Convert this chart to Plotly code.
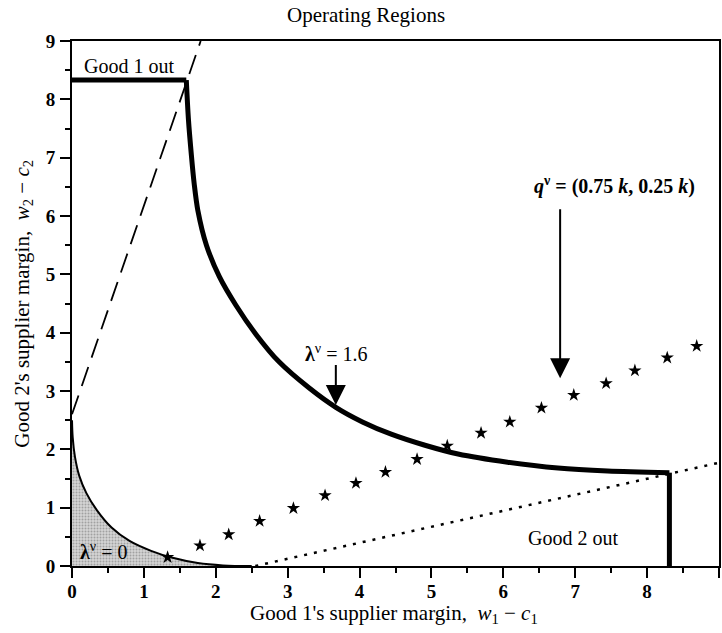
import plotly.graph_objects as go

# ---- data ----
# lambda = 1.6 boundary (thick)
good1_out_x = [0.0, 1.59]
good1_out_y = [8.33, 8.33]
lam16_x = [1.59, 1.62, 1.66, 1.70, 1.75, 1.87, 2.05, 2.28, 2.56, 2.88, 3.30, 3.67, 4.04, 4.44, 4.91, 5.37, 6.06, 6.76, 7.45, 8.31]
lam16_y = [8.33, 7.65, 7.05, 6.55, 6.10, 5.50, 4.96, 4.47, 3.97, 3.50, 3.05, 2.72, 2.47, 2.26, 2.07, 1.92, 1.78, 1.68, 1.63, 1.60]
good2_out_x = [8.31, 8.31]
good2_out_y = [1.60, 0.0]

# lambda = 0 boundary (thin, shaded below)
lam0_x = [0, 0.01, 0.04, 0.1, 0.2, 0.35, 0.55, 0.8, 1.1, 1.4, 1.75, 2.1, 2.5]
lam0_y = [2.5, 2.2, 1.88, 1.55, 1.25, 0.95, 0.66, 0.43, 0.26, 0.14, 0.05, 0.01, 0.0]

# dashed ray and dotted ray
dash_x = [0.0, 1.79]
dash_y = [2.6, 9.0]
dot_x = [2.55, 9.0]
dot_y = [0.0, 1.77]

# q^v = (0.75k, 0.25k) path (stars)
star_x = [1.33, 1.78, 2.18, 2.61, 3.08, 3.52, 3.95, 4.36, 4.80, 5.22, 5.69, 6.09, 6.53, 6.98, 7.43, 7.83, 8.28, 8.69]
star_y = [0.15, 0.35, 0.54, 0.77, 0.99, 1.21, 1.42, 1.61, 1.83, 2.06, 2.28, 2.47, 2.71, 2.93, 3.13, 3.35, 3.57, 3.77]

tick_vals = [0, 1, 2, 3, 4, 5, 6, 7, 8, 9]

FONT = "Liberation Serif"
BLACK = "black"

fig = go.Figure()

# shaded lambda=0 region
fig.add_trace(go.Scatter(
    x=lam0_x, y=lam0_y, mode="lines", line=dict(color=BLACK, width=2),
    fill="tozeroy", fillcolor="rgb(195,195,195)",
    fillpattern=dict(shape=".", fgcolor="rgb(110,110,110)", bgcolor="rgb(212,212,212)", size=3, solidity=0.35),
    line_shape="spline", hoverinfo="skip", showlegend=False))

fig.add_trace(go.Scatter(x=dash_x, y=dash_y, mode="lines",
                         line=dict(color=BLACK, width=1.8, dash="20px,10px"), showlegend=False))
fig.add_trace(go.Scatter(x=dot_x, y=dot_y, mode="lines",
                         line=dict(color=BLACK, width=2.5, dash="3px,7px"), showlegend=False))

fig.add_trace(go.Scatter(x=good1_out_x, y=good1_out_y, mode="lines",
                         line=dict(color=BLACK, width=5), showlegend=False))
fig.add_trace(go.Scatter(x=lam16_x, y=lam16_y, mode="lines", line_shape="spline",
                         line=dict(color=BLACK, width=5, smoothing=0.8), showlegend=False))
fig.add_trace(go.Scatter(x=good2_out_x, y=good2_out_y, mode="lines",
                         line=dict(color=BLACK, width=5), showlegend=False))

fig.add_trace(go.Scatter(x=star_x, y=star_y, mode="markers",
                         marker=dict(symbol="star", size=10, color=BLACK), showlegend=False))

annotations = [
    # title
    dict(text="Operating Regions", xref="paper", yref="paper", x=0.454, y=1.0495,
         xanchor="center", yanchor="middle", showarrow=False, font=dict(family=FONT, size=21, color=BLACK)),
    # axis titles
    dict(text="Good 1's supplier margin,  <i>w</i><sub>1</sub> \u2212 <i>c</i><sub>1</sub>",
         xref="paper", yref="paper", x=0.498, y=-0.0915, xanchor="center", yanchor="middle",
         showarrow=False, font=dict(family=FONT, size=21, color=BLACK)),
    dict(text="Good 2's supplier margin,  <i>w</i><sub>2</sub> \u2212 <i>c</i><sub>2</sub>",
         xref="paper", yref="paper", x=-0.077, y=0.5, xanchor="center", yanchor="middle",
         textangle=-90, showarrow=False, font=dict(family=FONT, size=21, color=BLACK)),
    # region labels
    dict(text="Good 1 out", x=0.79, y=8.58, xref="x", yref="y", showarrow=False,
         font=dict(family=FONT, size=20, color=BLACK)),
    dict(text="Good 2 out", x=6.97, y=0.48, xref="x", yref="y", showarrow=False,
         font=dict(family=FONT, size=20, color=BLACK)),
    dict(text="<b>\u03bb</b><sup>\u03bd</sup> = 0", x=0.44, y=0.26, xref="x", yref="y", showarrow=False,
         font=dict(family=FONT, size=20, color=BLACK)),
    dict(text="<b>\u03bb</b><sup>\u03bd</sup> = 1.6", x=3.67, y=3.66, xref="x", yref="y", showarrow=False,
         font=dict(family=FONT, size=20, color=BLACK)),
    dict(text="<b><i>q</i><sup>\u03bd</sup> = (0.75 <i>k</i>, 0.25 <i>k</i>)</b>", x=7.55, y=6.53,
         xref="x", yref="y", showarrow=False, font=dict(family=FONT, size=20, color=BLACK)),
    # arrows
    dict(text="", x=3.67, y=2.76, ax=3.67, ay=3.47, xref="x", yref="y", axref="x", ayref="y",
         showarrow=True, arrowhead=2, arrowsize=2, arrowwidth=2, arrowcolor=BLACK),
    dict(text="", x=6.79, y=3.22, ax=6.79, ay=6.14, xref="x", yref="y", axref="x", ayref="y",
         showarrow=True, arrowhead=2, arrowsize=2, arrowwidth=2, arrowcolor=BLACK),
]

axis_common = dict(
    range=[0, 9], tickvals=tick_vals, ticks="outside", ticklen=10, tickwidth=2, tickcolor=BLACK,
    showline=True, linecolor=BLACK, linewidth=2, mirror=True, showgrid=False, zeroline=False,
    tickfont=dict(family=FONT, size=19, color=BLACK, weight="bold"),
    minor=dict(dtick=0.5, ticks="outside", ticklen=5, tickwidth=2, tickcolor=BLACK, showgrid=False),
)

fig.update_layout(
    width=722, height=633,
    margin=dict(l=72, r=1, t=41, b=67),
    paper_bgcolor="white", plot_bgcolor="white",
    xaxis=dict(**axis_common, ticklabelstandoff=-3),
    yaxis=dict(**axis_common, ticklabelstandoff=1),
    annotations=annotations,
    showlegend=False,
)

fig.write_html("out.html")
